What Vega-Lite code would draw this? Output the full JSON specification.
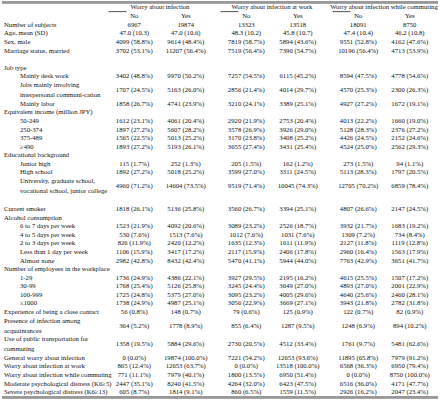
{
  "$schema": "https://vega.github.io/schema/vega-lite/v6.json",
  "width": 440,
  "height": 400,
  "autosize": {"type": "fit", "contains": "padding"},
  "padding": 0,
  "background": "white",
  "config": {"view": {"stroke": null}, "text": {"font": "Liberation Serif", "fontSize": 6.7, "color": "#111"}},
  "datasets": {
    "groups": [
      {"g": "inf", "t": "Worry about infection"},
      {"g": "work", "t": "Worry about infection at work"},
      {"g": "com", "t": "Worry about infection while commuting"}
    ],
    "answers": [
      {"g": "inf", "a": "No"}, {"g": "inf", "a": "Yes"},
      {"g": "work", "a": "No"}, {"g": "work", "a": "Yes"},
      {"g": "com", "a": "No"}, {"g": "com", "a": "Yes"}
    ],
    "labels": [
      {"r": 0, "lvl": 0, "label": "Number of subjects"},
      {"r": 1, "lvl": 0, "label": "Age, mean (SD)"},
      {"r": 2, "lvl": 0, "label": "Sex, male"},
      {"r": 3, "lvl": 0, "label": "Marriage status, married"},
      {"r": 5, "lvl": 0, "label": "Job type"},
      {"r": 6, "lvl": 1, "label": "Mainly  desk work"},
      {"r": 7.625, "lvl": 1, "label": "Jobs  mainly  involving\ninterpersonal  communi-cation"},
      {"r": 9.25, "lvl": 1, "label": "Mainly  labor"},
      {"r": 10.25, "lvl": 0, "label": "Equivalent income (million JPY)"},
      {"r": 11.25, "lvl": 1, "label": "50-249"},
      {"r": 12.25, "lvl": 1, "label": "250-374"},
      {"r": 13.25, "lvl": 1, "label": "375-489"},
      {"r": 14.25, "lvl": 1, "label": "≥490"},
      {"r": 15.25, "lvl": 0, "label": "Educational background"},
      {"r": 16.25, "lvl": 1, "label": "Junior high"},
      {"r": 17.25, "lvl": 1, "label": "High school"},
      {"r": 18.875, "lvl": 1, "label": "University, graduate school,\nvocational school, junior college"},
      {"r": 21.6, "lvl": 0, "label": "Current smoker"},
      {"r": 22.6, "lvl": 0, "label": "Alcohol consumption"},
      {"r": 23.6, "lvl": 1, "label": "6 to 7 days per week"},
      {"r": 24.6, "lvl": 1, "label": "4 to 5 days per week"},
      {"r": 25.6, "lvl": 1, "label": "2 to 3 days per week"},
      {"r": 26.6, "lvl": 1, "label": "Less than 1 day per week"},
      {"r": 27.6, "lvl": 1, "label": "Almost none"},
      {"r": 28.6, "lvl": 0, "label": "Number of employees in the workplace"},
      {"r": 29.6, "lvl": 1, "label": "1-29"},
      {"r": 30.6, "lvl": 1, "label": "30-99"},
      {"r": 31.6, "lvl": 1, "label": "100-999"},
      {"r": 32.6, "lvl": 1, "label": "≤1000"},
      {"r": 33.65, "lvl": 0, "label": "Experience of being a close contact"},
      {"r": 35.3, "lvl": 0, "label": "Presence of infection among\nacquaintances"},
      {"r": 37.4, "lvl": 0, "label": "Use of public transportation for\ncommuting"},
      {"r": 39, "lvl": 0, "label": "General worry about infection"},
      {"r": 40, "lvl": 0, "label": "Worry about infection at work"},
      {"r": 41, "lvl": 0, "label": "Worry about infection while commuting"},
      {"r": 42, "lvl": 0, "label": "Moderate psychological distress (K6≥5)"},
      {"r": 43, "lvl": 0, "label": "Severe psychological distress (K6≥13)"}
    ],
    "cells": [
      {"r": 0, "g": "inf", "No": "6967", "Yes": "19874"},
      {"r": 0, "g": "work", "No": "13323", "Yes": "13518"},
      {"r": 0, "g": "com", "No": "18091", "Yes": "8750"},
      {"r": 1, "g": "inf", "No": "47.0 (10.3)", "Yes": "47.0 (10.6)"},
      {"r": 1, "g": "work", "No": "48.3 (10.2)", "Yes": "45.8 (10.7)"},
      {"r": 1, "g": "com", "No": "47.4 (10.4)", "Yes": "46.2 (10.8)"},
      {"r": 2, "g": "inf", "No": "4099 (58.8%)", "Yes": "9614 (48.4%)"},
      {"r": 2, "g": "work", "No": "7819 (58.7%)", "Yes": "5894 (43.6%)"},
      {"r": 2, "g": "com", "No": "9551 (52.8%)", "Yes": "4162 (47.6%)"},
      {"r": 3, "g": "inf", "No": "3702 (53.1%)", "Yes": "11207 (56.4%)"},
      {"r": 3, "g": "work", "No": "7519 (56.4%)", "Yes": "7390 (54.7%)"},
      {"r": 3, "g": "com", "No": "10196 (56.4%)", "Yes": "4713 (53.9%)"},
      {"r": 6, "g": "inf", "No": "3402 (48.8%)", "Yes": "9970 (50.2%)"},
      {"r": 6, "g": "work", "No": "7257 (54.5%)", "Yes": "6115 (45.2%)"},
      {"r": 6, "g": "com", "No": "8594 (47.5%)", "Yes": "4778 (54.6%)"},
      {"r": 7.625, "g": "inf", "No": "1707 (24.5%)", "Yes": "5163 (26.0%)"},
      {"r": 7.625, "g": "work", "No": "2856 (21.4%)", "Yes": "4014 (29.7%)"},
      {"r": 7.625, "g": "com", "No": "4570 (25.3%)", "Yes": "2300 (26.3%)"},
      {"r": 9.25, "g": "inf", "No": "1858 (26.7%)", "Yes": "4741 (23.9%)"},
      {"r": 9.25, "g": "work", "No": "3210 (24.1%)", "Yes": "3389 (25.1%)"},
      {"r": 9.25, "g": "com", "No": "4927 (27.2%)", "Yes": "1672 (19.1%)"},
      {"r": 11.25, "g": "inf", "No": "1612 (23.1%)", "Yes": "4061 (20.4%)"},
      {"r": 11.25, "g": "work", "No": "2920 (21.9%)", "Yes": "2753 (20.4%)"},
      {"r": 11.25, "g": "com", "No": "4013 (22.2%)", "Yes": "1660 (19.0%)"},
      {"r": 12.25, "g": "inf", "No": "1897 (27.2%)", "Yes": "5607 (28.2%)"},
      {"r": 12.25, "g": "work", "No": "3578 (26.9%)", "Yes": "3926 (29.0%)"},
      {"r": 12.25, "g": "com", "No": "5128 (28.3%)", "Yes": "2376 (27.2%)"},
      {"r": 13.25, "g": "inf", "No": "1565 (22.5%)", "Yes": "5013 (25.2%)"},
      {"r": 13.25, "g": "work", "No": "3170 (23.8%)", "Yes": "3408 (25.2%)"},
      {"r": 13.25, "g": "com", "No": "4426 (24.5%)", "Yes": "2152 (24.6%)"},
      {"r": 14.25, "g": "inf", "No": "1893 (27.2%)", "Yes": "5193 (26.1%)"},
      {"r": 14.25, "g": "work", "No": "3655 (27.4%)", "Yes": "3431 (25.4%)"},
      {"r": 14.25, "g": "com", "No": "4524 (25.0%)", "Yes": "2562 (29.3%)"},
      {"r": 16.25, "g": "inf", "No": "115 (1.7%)", "Yes": "252 (1.3%)"},
      {"r": 16.25, "g": "work", "No": "205 (1.5%)", "Yes": "162 (1.2%)"},
      {"r": 16.25, "g": "com", "No": "273 (1.5%)", "Yes": "94 (1.1%)"},
      {"r": 17.25, "g": "inf", "No": "1892 (27.2%)", "Yes": "5018 (25.2%)"},
      {"r": 17.25, "g": "work", "No": "3599 (27.0%)", "Yes": "3311 (24.5%)"},
      {"r": 17.25, "g": "com", "No": "5113 (28.3%)", "Yes": "1797 (20.5%)"},
      {"r": 18.875, "g": "inf", "No": "4960 (71.2%)", "Yes": "14604 (73.5%)"},
      {"r": 18.875, "g": "work", "No": "9519 (71.4%)", "Yes": "10045 (74.3%)"},
      {"r": 18.875, "g": "com", "No": "12705 (70.2%)", "Yes": "6859 (78.4%)"},
      {"r": 21.6, "g": "inf", "No": "1818 (26.1%)", "Yes": "5136 (25.8%)"},
      {"r": 21.6, "g": "work", "No": "3560 (26.7%)", "Yes": "3394 (25.1%)"},
      {"r": 21.6, "g": "com", "No": "4807 (26.6%)", "Yes": "2147 (24.5%)"},
      {"r": 23.6, "g": "inf", "No": "1523 (21.9%)", "Yes": "4092 (20.6%)"},
      {"r": 23.6, "g": "work", "No": "3089 (23.2%)", "Yes": "2526 (18.7%)"},
      {"r": 23.6, "g": "com", "No": "3932 (21.7%)", "Yes": "1683 (19.2%)"},
      {"r": 24.6, "g": "inf", "No": "530 (7.6%)", "Yes": "1513 (7.6%)"},
      {"r": 24.6, "g": "work", "No": "1012 (7.6%)", "Yes": "1031 (7.6%)"},
      {"r": 24.6, "g": "com", "No": "1309 (7.2%)", "Yes": "734 (8.4%)"},
      {"r": 25.6, "g": "inf", "No": "826 (11.9%)", "Yes": "2420 (12.2%)"},
      {"r": 25.6, "g": "work", "No": "1635 (12.3%)", "Yes": "1611 (11.9%)"},
      {"r": 25.6, "g": "com", "No": "2127 (11.8%)", "Yes": "1119 (12.8%)"},
      {"r": 26.6, "g": "inf", "No": "1106 (15.9%)", "Yes": "3417 (17.2%)"},
      {"r": 26.6, "g": "work", "No": "2117 (15.9%)", "Yes": "2406 (17.8%)"},
      {"r": 26.6, "g": "com", "No": "2960 (16.4%)", "Yes": "1563 (17.9%)"},
      {"r": 27.6, "g": "inf", "No": "2982 (42.8%)", "Yes": "8432 (42.4%)"},
      {"r": 27.6, "g": "work", "No": "5470 (41.1%)", "Yes": "5944 (44.0%)"},
      {"r": 27.6, "g": "com", "No": "7763 (42.9%)", "Yes": "3651 (41.7%)"},
      {"r": 29.6, "g": "inf", "No": "1736 (24.9%)", "Yes": "4386 (22.1%)"},
      {"r": 29.6, "g": "work", "No": "3927 (29.5%)", "Yes": "2195 (16.2%)"},
      {"r": 29.6, "g": "com", "No": "4615 (25.5%)", "Yes": "1507 (17.2%)"},
      {"r": 30.6, "g": "inf", "No": "1768 (25.4%)", "Yes": "5126 (25.8%)"},
      {"r": 30.6, "g": "work", "No": "3245 (24.4%)", "Yes": "3649 (27.0%)"},
      {"r": 30.6, "g": "com", "No": "4893 (27.0%)", "Yes": "2001 (22.9%)"},
      {"r": 31.6, "g": "inf", "No": "1725 (24.8%)", "Yes": "5375 (27.0%)"},
      {"r": 31.6, "g": "work", "No": "3095 (23.2%)", "Yes": "4005 (29.6%)"},
      {"r": 31.6, "g": "com", "No": "4640 (25.6%)", "Yes": "2460 (28.1%)"},
      {"r": 32.6, "g": "inf", "No": "1738 (24.9%)", "Yes": "4987 (25.1%)"},
      {"r": 32.6, "g": "work", "No": "3056 (22.9%)", "Yes": "3669 (27.1%)"},
      {"r": 32.6, "g": "com", "No": "3943 (21.8%)", "Yes": "2782 (31.8%)"},
      {"r": 33.65, "g": "inf", "No": "56 (0.8%)", "Yes": "148 (0.7%)"},
      {"r": 33.65, "g": "work", "No": "79 (0.6%)", "Yes": "125 (0.9%)"},
      {"r": 33.65, "g": "com", "No": "122 (0.7%)", "Yes": "82 (0.9%)"},
      {"r": 35.3, "g": "inf", "No": "364 (5.2%)", "Yes": "1778 (8.9%)"},
      {"r": 35.3, "g": "work", "No": "855 (6.4%)", "Yes": "1287 (9.5%)"},
      {"r": 35.3, "g": "com", "No": "1248 (6.9%)", "Yes": "894 (10.2%)"},
      {"r": 37.4, "g": "inf", "No": "1358 (19.5%)", "Yes": "5884 (29.6%)"},
      {"r": 37.4, "g": "work", "No": "2730 (20.5%)", "Yes": "4512 (33.4%)"},
      {"r": 37.4, "g": "com", "No": "1761 (9.7%)", "Yes": "5481 (62.6%)"},
      {"r": 39, "g": "inf", "No": "0 (0.0%)", "Yes": "19874 (100.0%)"},
      {"r": 39, "g": "work", "No": "7221 (54.2%)", "Yes": "12653 (93.6%)"},
      {"r": 39, "g": "com", "No": "11895 (65.8%)", "Yes": "7979 (91.2%)"},
      {"r": 40, "g": "inf", "No": "865 (12.4%)", "Yes": "12653 (63.7%)"},
      {"r": 40, "g": "work", "No": "0 (0.0%)", "Yes": "13518 (100.0%)"},
      {"r": 40, "g": "com", "No": "6568 (36.3%)", "Yes": "6950 (79.4%)"},
      {"r": 41, "g": "inf", "No": "771 (11.1%)", "Yes": "7979 (40.1%)"},
      {"r": 41, "g": "work", "No": "1800 (13.5%)", "Yes": "6950 (51.4%)"},
      {"r": 41, "g": "com", "No": "0 (0.0%)", "Yes": "8750 (100.0%)"},
      {"r": 42, "g": "inf", "No": "2447 (35.1%)", "Yes": "8240 (41.5%)"},
      {"r": 42, "g": "work", "No": "4264 (32.0%)", "Yes": "6423 (47.5%)"},
      {"r": 42, "g": "com", "No": "6516 (36.0%)", "Yes": "4171 (47.7%)"},
      {"r": 43, "g": "inf", "No": "605 (8.7%)", "Yes": "1814 (9.1%)"},
      {"r": 43, "g": "work", "No": "860 (6.5%)", "Yes": "1559 (11.5%)"},
      {"r": 43, "g": "com", "No": "2926 (16.2%)", "Yes": "2047 (23.4%)"}
    ]
  },
  "layer": [
    {
      "data": {"name": "groups"},
      "mark": {"type": "rule", "stroke": "#999", "strokeWidth": 2.5},
      "encoding": {
        "y": {"datum": -2.66, "type": "quantitative", "scale": {"domain": [-2.8, 43.93], "reverse": true, "nice": false, "zero": false}, "axis": null}
      }
    },
    {
      "data": {"name": "groups"},
      "mark": {"type": "rule", "stroke": "#999", "strokeWidth": 2.5},
      "encoding": {
        "y": {"datum": 43.6, "type": "quantitative", "scale": {"domain": [-2.8, 43.93], "reverse": true, "nice": false, "zero": false}, "axis": null}
      }
    },
    {
      "data": {"name": "groups"},
      "mark": {"type": "rect", "fill": "#333"},
      "encoding": {
        "x": {"field": "g", "type": "nominal", "scale": {"domain": ["label", "inf", "work", "com"], "range": [-5.5, 433.5], "paddingInner": 0.08, "paddingOuter": 0}, "axis": null},
        "y": {"datum": -1.6, "type": "quantitative", "scale": {"domain": [-2.8, 43.93], "reverse": true, "nice": false, "zero": false}, "axis": null},
        "y2": {"datum": -1.5}
      }
    },
    {
      "data": {"name": "groups"},
      "mark": {"type": "text", "baseline": "middle", "align": "center"},
      "encoding": {
        "x": {"field": "g", "type": "nominal", "scale": {"domain": ["label", "inf", "work", "com"], "range": [-5.5, 433.5], "paddingInner": 0.08, "paddingOuter": 0}, "axis": null},
        "y": {"datum": -2.05, "type": "quantitative", "scale": {"domain": [-2.8, 43.93], "reverse": true, "nice": false, "zero": false}, "axis": null},
        "text": {"field": "t"}
      }
    },
    {
      "data": {"name": "answers"},
      "mark": {"type": "text", "baseline": "middle", "align": "center"},
      "encoding": {
        "x": {"field": "g", "type": "nominal", "scale": {"domain": ["label", "inf", "work", "com"], "range": [-5.5, 433.5], "paddingInner": 0.08, "paddingOuter": 0}, "axis": null},
        "xOffset": {"field": "a", "type": "nominal", "scale": {"domain": ["No", "Yes"]}},
        "y": {"datum": -1.05, "type": "quantitative", "scale": {"domain": [-2.8, 43.93], "reverse": true, "nice": false, "zero": false}, "axis": null},
        "text": {"field": "a"}
      }
    },
    {
      "data": {"name": "labels"},
      "transform": [{"filter": "datum.lvl == 0 && indexof(datum.label, '\\n') < 0"}],
      "mark": {"type": "text", "baseline": "middle", "align": "left", "dx": 7.5},
      "encoding": {
        "x": {"datum": "label", "type": "nominal", "bandPosition": 0, "scale": {"domain": ["label", "inf", "work", "com"], "range": [-5.5, 433.5], "paddingInner": 0.08, "paddingOuter": 0}, "axis": null},
        "y": {"field": "r", "type": "quantitative", "scale": {"domain": [-2.8, 43.93], "reverse": true, "nice": false, "zero": false}, "axis": null},
        "text": {"field": "label"}
      }
    },
    {
      "data": {"name": "labels"},
      "transform": [{"filter": "datum.lvl == 0 && indexof(datum.label, '\\n') >= 0"}],
      "mark": {"type": "text", "baseline": "middle", "align": "left", "dx": 7.5, "dy": -4.9, "lineBreak": "\n", "lineHeight": 9.8},
      "encoding": {
        "x": {"datum": "label", "type": "nominal", "bandPosition": 0, "scale": {"domain": ["label", "inf", "work", "com"], "range": [-5.5, 433.5], "paddingInner": 0.08, "paddingOuter": 0}, "axis": null},
        "y": {"field": "r", "type": "quantitative", "scale": {"domain": [-2.8, 43.93], "reverse": true, "nice": false, "zero": false}, "axis": null},
        "text": {"field": "label"}
      }
    },
    {
      "data": {"name": "labels"},
      "transform": [{"filter": "datum.lvl == 1 && indexof(datum.label, '\\n') < 0"}],
      "mark": {"type": "text", "baseline": "middle", "align": "left", "dx": 23.5},
      "encoding": {
        "x": {"datum": "label", "type": "nominal", "bandPosition": 0, "scale": {"domain": ["label", "inf", "work", "com"], "range": [-5.5, 433.5], "paddingInner": 0.08, "paddingOuter": 0}, "axis": null},
        "y": {"field": "r", "type": "quantitative", "scale": {"domain": [-2.8, 43.93], "reverse": true, "nice": false, "zero": false}, "axis": null},
        "text": {"field": "label"}
      }
    },
    {
      "data": {"name": "labels"},
      "transform": [{"filter": "datum.lvl == 1 && indexof(datum.label, '\\n') >= 0"}],
      "mark": {"type": "text", "baseline": "middle", "align": "left", "dx": 23.5, "dy": -4.9, "lineBreak": "\n", "lineHeight": 9.8},
      "encoding": {
        "x": {"datum": "label", "type": "nominal", "bandPosition": 0, "scale": {"domain": ["label", "inf", "work", "com"], "range": [-5.5, 433.5], "paddingInner": 0.08, "paddingOuter": 0}, "axis": null},
        "y": {"field": "r", "type": "quantitative", "scale": {"domain": [-2.8, 43.93], "reverse": true, "nice": false, "zero": false}, "axis": null},
        "text": {"field": "label"}
      }
    },
    {
      "data": {"name": "cells"},
      "transform": [{"fold": ["No", "Yes"], "as": ["a", "v"]}],
      "mark": {"type": "text", "baseline": "middle", "align": "center"},
      "encoding": {
        "x": {"field": "g", "type": "nominal", "scale": {"domain": ["label", "inf", "work", "com"], "range": [-5.5, 433.5], "paddingInner": 0.08, "paddingOuter": 0}, "axis": null},
        "xOffset": {"field": "a", "type": "nominal", "scale": {"domain": ["No", "Yes"]}},
        "y": {"field": "r", "type": "quantitative", "scale": {"domain": [-2.8, 43.93], "reverse": true, "nice": false, "zero": false}, "axis": null},
        "text": {"field": "v"}
      }
    }
  ]
}
